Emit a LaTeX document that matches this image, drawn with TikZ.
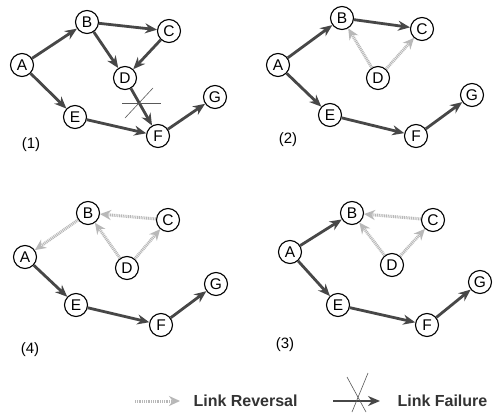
\documentclass[tikz,border=0pt]{standalone}
\usepackage{fontspec}
\setmainfont{Liberation Sans}
\usetikzlibrary{arrows.meta}

\tikzset{
  vtx/.style={circle, draw=black, line width=1.1pt, fill=white, minimum size=23pt, inner sep=0pt, font=\fontsize{15.5}{15.5}\selectfont},
  link/.style={draw=black!72, line width=2.8pt, -{Stealth[length=12pt,width=10pt]}},
  rev/.style={draw=black!28, line width=3pt, dash pattern=on 1pt off 0.8pt, -{Stealth[length=11pt,width=10pt,fill=black!18]}},
  cut/.style={draw=black!65, line width=0.6pt},
  tag/.style={font=\fontsize{15}{15}\selectfont},
  legend/.style={anchor=west, font=\fontsize{16}{16}\selectfont\bfseries, text=black!80},
}

\begin{document}
\begin{tikzpicture}[x=1pt, y=-1pt]
        \fill[white] (0,0) rectangle (498,415);
        \useasboundingbox (0,0) rectangle (498,415);

        % (1) failure of D -- F
        \node[vtx] (a1) at (22, 65) {A};
        \node[vtx] (b1) at (87, 22) {B};
        \node[vtx] (c1) at (169, 31) {C};
        \node[vtx] (d1) at (125, 78) {D};
        \node[vtx] (e1) at (75, 117) {E};
        \node[vtx] (f1) at (158, 136) {F};
        \node[vtx] (g1) at (215, 97) {G};
        \node[tag] (t1) at (31, 145) {(1)};

        \draw[link] (a1) -- (b1);
        \draw[link] (b1) -- (c1);
        \draw[link] (b1) -- (d1);
        \draw[link] (c1) -- (d1);
        \draw[link] (d1) -- (f1);
        \draw[link] (a1) -- (e1);
        \draw[link] (e1) -- (f1);
        \draw[link] (f1) -- (g1);
        \coordinate (x1) at (140, 103);
        \draw[cut] ([shift={(-18,0)}]x1) -- ([shift={(21,0)}]x1);
        \draw[cut] ([shift={(-15,15)}]x1) -- ([shift={(13,-15)}]x1);

        % (2)
        \node[vtx] (a2) at (278, 65) {A};
        \node[vtx] (b2) at (342, 18) {B};
        \node[vtx] (c2) at (422, 29) {C};
        \node[vtx] (d2) at (378, 78) {D};
        \node[vtx] (e2) at (330, 115) {E};
        \node[vtx] (f2) at (416, 136) {F};
        \node[vtx] (g2) at (472, 95) {G};
        \node[tag] (t2) at (288, 140) {(2)};

        \draw[link] (a2) -- (b2);
        \draw[link] (b2) -- (c2);
        \draw[rev] (d2) -- (b2);
        \draw[rev] (d2) -- (c2);
        \draw[link] (a2) -- (e2);
        \draw[link] (e2) -- (f2);
        \draw[link] (f2) -- (g2);

        % (4)
        \node[vtx] (a4) at (25, 257) {A};
        \node[vtx] (b4) at (88, 213) {B};
        \node[vtx] (c4) at (168, 220) {C};
        \node[vtx] (d4) at (127, 268) {D};
        \node[vtx] (e4) at (76, 305) {E};
        \node[vtx] (f4) at (161, 325) {F};
        \node[vtx] (g4) at (216, 284) {G};
        \node[tag] (t4) at (30, 350) {(4)};

        \draw[rev] (b4) -- (a4);
        \draw[rev] (c4) -- (b4);
        \draw[rev] (d4) -- (b4);
        \draw[rev] (d4) -- (c4);
        \draw[link] (a4) -- (e4);
        \draw[link] (e4) -- (f4);
        \draw[link] (f4) -- (g4);

        % (3)
        \node[vtx] (a3) at (290, 252) {A};
        \node[vtx] (b3) at (352, 213) {B};
        \node[vtx] (c3) at (433, 220) {C};
        \node[vtx] (d3) at (392, 265) {D};
        \node[vtx] (e3) at (338, 305) {E};
        \node[vtx] (f3) at (427, 325) {F};
        \node[vtx] (g3) at (480, 282) {G};
        \node[tag] (t3) at (285, 345) {(3)};

        \draw[link] (a3) -- (b3);
        \draw[rev] (c3) -- (b3);
        \draw[rev] (d3) -- (b3);
        \draw[rev] (d3) -- (c3);
        \draw[link] (a3) -- (e3);
        \draw[link] (e3) -- (f3);
        \draw[link] (f3) -- (g3);

        % legend
        \coordinate (r0) at (135, 401);
        \coordinate (r1) at (180, 401);
        \draw[rev] (r0) -- (r1);
        \node[legend] (revtxt) at (190, 401) {Link Reversal};
        \coordinate (f0) at (333, 401);
        \coordinate (fz) at (380, 401);
        \draw[link] (f0) -- (fz);
        \coordinate (x0) at (358, 393);
        \draw[cut] ([shift={(-11,-16)}]x0) -- ([shift={(8,19)}]x0);
        \draw[cut] ([shift={(-6,19)}]x0) -- ([shift={(10,-20)}]x0);
        \node[legend] (failtxt) at (394, 401) {Link Failure};
\end{tikzpicture}
\end{document}
